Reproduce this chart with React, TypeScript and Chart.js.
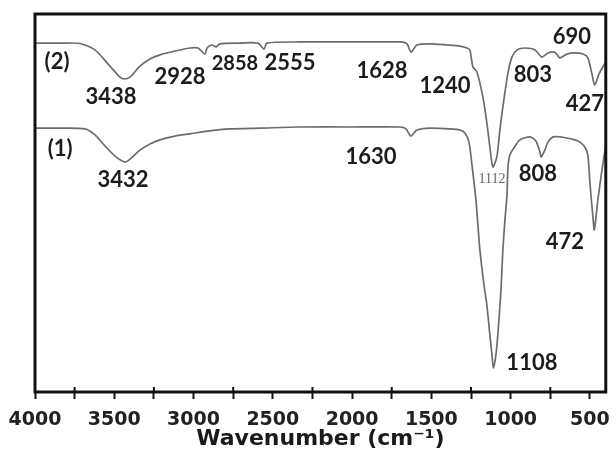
import React, { useEffect, useRef } from "react";
import { Chart, registerables } from "chart.js";

Chart.register(...registerables);

// Sample (1) spectrum: wavenumber (cm-1) and relative transmittance
const sample1Wavenumbers = [4000, 3842, 3685, 3622, 3559, 3495, 3432, 3401, 3338, 3275, 3212, 3117, 3023, 2915, 2770, 2581, 2329, 2014, 1698, 1660, 1630, 1591, 1509, 1383, 1320, 1288, 1263, 1244, 1219, 1194, 1168, 1150, 1131, 1118, 1108, 1093, 1080, 1061, 1049, 1036, 1023, 1017, 1005, 979, 941, 878, 841, 815, 808, 784, 765, 733, 689, 645, 595, 563, 532, 513, 500, 481, 472, 450, 424, 405, 400];
const sample1Values = [69.8, 69.8, 69.6, 68.0, 65.1, 62.4, 60.8, 61.6, 64.0, 65.6, 66.7, 67.7, 68.3, 69.0, 69.6, 69.8, 70.1, 70.1, 70.1, 69.6, 67.7, 69.3, 69.8, 69.6, 69.3, 68.5, 66.1, 60.1, 50.8, 37.6, 28.3, 23.0, 15.1, 9.8, 6.3, 9.8, 15.6, 27.0, 37.6, 45.5, 52.1, 59.5, 62.7, 64.6, 66.7, 67.5, 66.4, 63.5, 62.2, 64.0, 66.1, 67.5, 67.5, 67.2, 66.7, 66.1, 64.8, 62.7, 55.3, 46.3, 42.9, 50.8, 58.7, 64.0, 65.3];

// Sample (2) spectrum
const sample2Wavenumbers = [4000, 3842, 3716, 3622, 3527, 3464, 3438, 3401, 3338, 3275, 3212, 3117, 3023, 2972, 2928, 2915, 2884, 2858, 2833, 2707, 2594, 2555, 2537, 2329, 2014, 1698, 1654, 1628, 1591, 1509, 1402, 1320, 1276, 1257, 1238, 1213, 1175, 1150, 1131, 1112, 1087, 1068, 1049, 1017, 992, 960, 910, 847, 803, 765, 721, 690, 645, 595, 544, 513, 487, 470, 443, 412, 400];
const sample2Values = [92.3, 92.3, 92.2, 90.5, 86.2, 83.3, 82.8, 83.3, 86.2, 88.1, 89.2, 90.2, 91.0, 91.0, 89.4, 91.0, 91.8, 91.3, 92.1, 92.3, 92.3, 90.7, 92.3, 92.6, 92.6, 92.6, 92.1, 89.9, 91.8, 92.1, 91.8, 91.5, 91.0, 90.5, 86.0, 84.7, 78.0, 71.2, 64.8, 59.5, 62.2, 69.3, 75.4, 84.4, 88.6, 90.5, 91.0, 90.5, 88.6, 89.7, 89.9, 88.4, 89.4, 89.7, 89.4, 88.4, 84.1, 81.2, 84.1, 86.5, 87.3];

// X axis ticks
const xTickValues = [4000, 3750, 3500, 3250, 3000, 2750, 2500, 2250, 2000, 1750, 1500, 1250, 1000, 750, 500];
const xLabeledTicks = [4000, 3500, 3000, 2500, 2000, 1500, 1000, 500];

// Peak annotations: text, wavenumber, value, kind
const peakTexts = ["(2)", "3438", "2928", "2858", "2555", "1628", "1240", "690", "803", "427", "(1)", "3432", "1630", "1112", "808", "472", "1108"];
const peakTextX = [3861, 3521, 3086, 2739, 2392, 1812, 1414, 614, 860, 532, 3842, 3445, 1881, 1118, 828, 658, 866];
const peakTextY = [87.3, 78.0, 83.3, 87.0, 87.0, 84.9, 81.0, 93.9, 83.9, 76.2, 64.3, 56.1, 62.2, 56.3, 57.7, 39.7, 7.7];
const peakTextKind = ["main", "main", "main", "light", "main", "main", "main", "main", "main", "main", "main", "main", "main", "tiny", "main", "main", "main"];

const fontFor: Record<string, string> = {
  main: "bold 22px Lato",
  light: "bold 20px Lato",
  tiny: "14px 'Liberation Serif'",
};
const colorFor: Record<string, string> = {
  main: "#1c1c1c",
  light: "#1c1c1c",
  tiny: "#666666",
};

const framePlugin = {
  id: "frameAndLabels",
  afterDatasetsDraw(chart: any) {
    const { ctx, chartArea, scales } = chart;
    const xs = scales.x;
    const ys = scales.y;
    ctx.save();
    // frame
    ctx.strokeStyle = "#111";
    ctx.lineWidth = 3;
    ctx.strokeRect(chartArea.left, chartArea.top, chartArea.right - chartArea.left, chartArea.bottom - chartArea.top);
    // upward part of minor ticks
    ctx.lineWidth = 2;
    xTickValues.forEach((v) => {
      if (xLabeledTicks.indexOf(v) === -1) {
        const px = xs.getPixelForValue(v);
        ctx.beginPath();
        ctx.moveTo(px, chartArea.bottom);
        ctx.lineTo(px, chartArea.bottom - 5);
        ctx.stroke();
      }
    });
    // peak labels
    ctx.textAlign = "center";
    ctx.textBaseline = "middle";
    peakTexts.forEach((t, i) => {
      const k = peakTextKind[i];
      ctx.font = fontFor[k];
      ctx.fillStyle = colorFor[k];
      ctx.fillText(t, xs.getPixelForValue(peakTextX[i]), ys.getPixelForValue(peakTextY[i]));
    });
    ctx.restore();
  },
};

export default function App() {
  const canvasRef = useRef<HTMLCanvasElement | null>(null);

  useEffect(() => {
    if (!canvasRef.current) return;
    const toPoints = (xs: number[], ys: number[]) => xs.map((x, i) => ({ x, y: ys[i] }));
    const chart = new Chart(canvasRef.current, {
      type: "line",
      data: {
        datasets: [
          {
            label: "(2)",
            data: toPoints(sample2Wavenumbers, sample2Values),
            borderColor: "#6c6c6c",
            borderWidth: 1.7,
            pointRadius: 0,
            tension: 0.25,
            fill: false,
          },
          {
            label: "(1)",
            data: toPoints(sample1Wavenumbers, sample1Values),
            borderColor: "#6c6c6c",
            borderWidth: 1.7,
            pointRadius: 0,
            tension: 0.25,
            fill: false,
          },
        ],
      },
      options: {
        animation: false,
        responsive: false,
        devicePixelRatio: 1,
        layout: { padding: { left: 35, right: 9, top: 14, bottom: 0 } },
        plugins: {
          legend: { display: false },
          tooltip: { enabled: false },
        },
        scales: {
          x: {
            type: "linear",
            reverse: true,
            min: 400,
            max: 4000,
            border: { display: false },
            grid: {
              display: true,
              drawOnChartArea: false,
              drawTicks: true,
              tickLength: 7,
              tickWidth: 2,
              tickColor: "#111",
            },
            afterBuildTicks: (scale: any) => {
              scale.ticks = xTickValues.map((v) => ({ value: v }));
            },
            afterFit: (scale: any) => {
              scale.height = 69;
            },
            ticks: {
              autoSkip: false,
              maxRotation: 0,
              padding: 6,
              color: "#222",
              font: { family: "'DejaVu Sans'", size: 19, weight: "bold", lineHeight: 1.6 },
              callback: (v: any) => (xLabeledTicks.indexOf(Number(v)) !== -1 ? String(v) : ""),
            },
            title: {
              display: true,
              text: "Wavenumber (cm\u207B\u00B9)",
              color: "#1a1a1a",
              font: { family: "'DejaVu Sans'", size: 22, weight: "bold" },
              padding: { top: 0, bottom: 9 },
            },
          },
          y: {
            type: "linear",
            display: false,
            min: 0,
            max: 100,
          },
        },
      },
      plugins: [framePlugin],
    });
    return () => chart.destroy();
  }, []);

  return (
    <div style={{ position: "fixed", left: 0, top: 0, width: 616, height: 461, background: "#fff" }}>
      <canvas ref={canvasRef} width={616} height={461} />
    </div>
  );
}
